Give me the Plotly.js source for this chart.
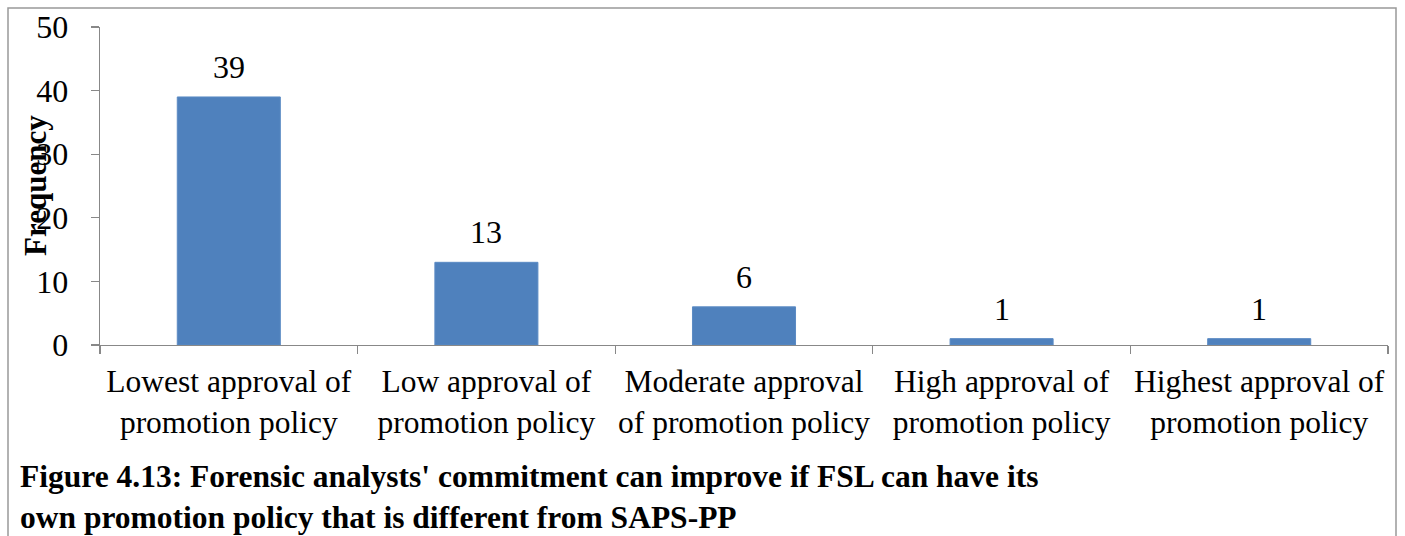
<!DOCTYPE html>
<html>
<head>
<meta charset="utf-8">
<script src="https://cdn.plot.ly/plotly-3.0.1.min.js"></script>
<style>
html,body{margin:0;padding:0;background:#fff;}
#chart{width:1405px;height:536px;}
</style>
</head>
<body>
<div id="chart"></div>
<script>
var categories = [
  "Lowest approval of<br>promotion policy",
  "Low approval of<br>promotion policy",
  "Moderate approval<br>of promotion policy",
  "High approval of<br>promotion policy",
  "Highest approval of<br>promotion policy"
];
var frequencies = [39, 13, 6, 1, 1];
var yTickValues = [0, 10, 20, 30, 40, 50];
var chartTitle = "Figure 4.13: Forensic analysts' commitment can improve if FSL can have its<br>own promotion policy that is different from SAPS-PP";
var yTitle = "Frequency";

var serif = "Liberation Serif, Times New Roman, serif";

var trace = {
  type: "bar",
  x: categories,
  y: frequencies,
  width: 0.4,
  marker: {color: "#4F81BD", line: {color: "#5B8BC4", width: 1}},
  hoverinfo: "x+y"
};

var annotations = categories.map(function(c, i){
  return {
    x: c, y: frequencies[i], xref: "x", yref: "y",
    text: String(frequencies[i]), showarrow: false,
    yanchor: "bottom", yshift: 10,
    font: {family: serif, size: 32, color: "#000"}
  };
});
annotations.push({
  xref: "paper", yref: "paper", x: -0.064, y: -0.352,
  xanchor: "left", yanchor: "top", align: "left",
  text: "<b>" + chartTitle + "</b>", showarrow: false,
  font: {family: serif, size: 31.5, color: "#000"}
});
annotations.push({
  xref: "paper", yref: "paper", x: (35 - 100) / 1288, y: 0.5,
  xanchor: "center", yanchor: "middle", textangle: -90,
  text: "<b>" + yTitle + "</b>", showarrow: false,
  font: {family: serif, size: 31, color: "#000"}
});

var layout = {
  width: 1405, height: 536,
  margin: {l: 100, r: 17, t: 27, b: 191},
  paper_bgcolor: "#fff", plot_bgcolor: "#fff",
  showlegend: false,
  font: {family: serif, color: "#000"},
  xaxis: {
    type: "category",
    tickson: "boundaries",
    tickangle: 0,
    ticks: "outside", ticklen: 8, tickcolor: "#888", tickwidth: 1.3,
    ticklabelstandoff: 8,
    showline: true, linecolor: "#888", linewidth: 1.3,
    showgrid: false, zeroline: false,
    tickfont: {family: serif, size: 31.5, color: "#000"},
    range: [-0.5, 4.5]
  },
  yaxis: {
    range: [0, 50],
    tickvals: yTickValues,
    ticks: "outside", ticklen: 8, tickcolor: "#888", tickwidth: 1.3,
    ticklabelstandoff: 16,
    showline: true, linecolor: "#888", linewidth: 1.3,
    showgrid: false, zeroline: false,
    tickfont: {family: serif, size: 32, color: "#000"}
  },
  annotations: annotations,
  shapes: [{
    type: "rect", xref: "paper", yref: "paper",
    x0: (8 - 100) / 1288, x1: (1396 - 100) / 1288,
    y0: (345 - 545) / 318, y1: (345 - 8) / 318,
    line: {color: "#999", width: 1.5}, fillcolor: "rgba(0,0,0,0)", layer: "below"
  }]
};

Plotly.newPlot("chart", [trace], layout, {displayModeBar: false, staticPlot: true});
</script>
</body>
</html>
